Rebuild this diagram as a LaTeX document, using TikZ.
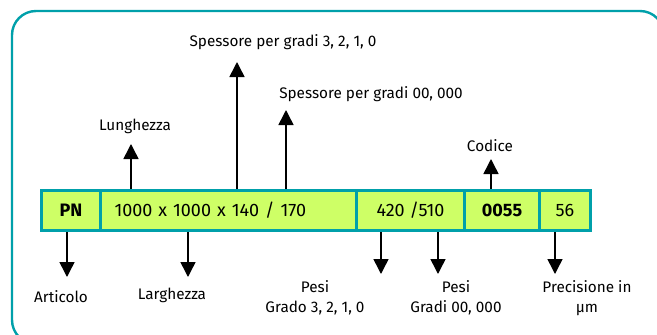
\documentclass[tikz,border=0pt]{standalone}
\usepackage{fontspec}
\setmainfont{Fira Sans}
\usetikzlibrary{arrows.meta}
\definecolor{teal}{RGB}{0,160,170}
\definecolor{lime}{RGB}{206,255,102}
\tikzset{
  cell/.style={draw=teal, line width=3pt, fill=lime, minimum height=40pt, inner sep=0pt, anchor=west, font=\fontsize{18}{20}\selectfont},
  lbl/.style={font=\fontsize{15.3}{20}\selectfont, align=center, inner sep=0pt},
  arr/.style={line width=1.5pt, -{Triangle[length=15pt, width=15pt]}}
}
\begin{document}
\begin{tikzpicture}[x=1pt,y=-1pt]
\useasboundingbox (0,0) rectangle (657,335);
\begin{scope}
\clip (0,0) rectangle (657,335);
\draw[teal, line width=2.4pt, rounded corners=24pt] (12,11) rectangle (664,344);
\end{scope}
% bar cells
\node[cell, minimum width=59pt] (pn) at (40,210.5) {\bfseries PN};
\node[cell, minimum width=256pt, text width=228pt, align=left, inner xsep=14pt] (dim) at (99,210.5) {1000 x 1000 x 140 / 170};
\node[cell, minimum width=108pt] (pesi) at (355,210.5) {420 /510};
\node[cell, minimum width=75pt] (cod) at (463,210.5) {\bfseries 0055};
\node[cell, minimum width=51pt] (prec) at (538,210.5) {56};
% arrow ends
\coordinate (tArt) at (67,277);
\coordinate (tLar) at (188,277);
\coordinate (tLun) at (131,144);
\coordinate (tSp1) at (237,62);
\coordinate (tSp2) at (286,110);
\coordinate (tCod) at (491,159);
\coordinate (tP1) at (381,274);
\coordinate (tP2) at (438,274);
\coordinate (tPr) at (555,274);
\draw[arr] (tArt |- pn.south) -- (tArt);
\draw[arr] (tLar |- dim.south) -- (tLar);
\draw[arr] (tLun |- dim.north) -- (tLun);
\draw[arr] (tSp1 |- dim.north) -- (tSp1);
\draw[arr] (tSp2 |- dim.north) -- (tSp2);
\draw[arr] (tCod |- cod.north) -- (tCod);
\draw[arr] (tP1 |- pesi.south) -- (tP1);
\draw[arr] (tP2 |- pesi.south) -- (tP2);
\draw[arr] (tPr |- prec.south) -- (tPr);
% labels
\node[lbl] (lArt) at (61,297) {Articolo};
\node[lbl] (lLar) at (172,295) {Larghezza};
\node[lbl] (lLun) at (135,126) {Lunghezza};
\node[lbl] (lSp1) at (283,42) {Spessore per gradi 3, 2, 1, 0};
\node[lbl] (lSp2) at (371,94) {Spessore per gradi 00, 000};
\node[lbl] (lCod) at (490,146) {Codice};
\node[lbl] (lP1) at (315,298) {Pesi\\Grado 3, 2, 1, 0};
\node[lbl] (lP2) at (456,298) {Pesi\\Gradi 00, 000};
\node[lbl] (lPr) at (587,298) {Precisione in\\µm};
\end{tikzpicture}
\end{document}
